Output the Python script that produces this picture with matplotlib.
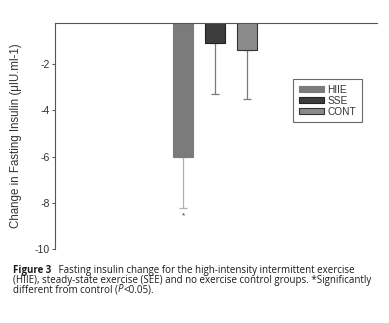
import matplotlib
matplotlib.use("Agg")
import matplotlib.pyplot as plt

groups = ["HIIE", "SSE", "CONT"]
means = [-6.0, -1.07, -1.38]
errors = [2.2, 2.2, 2.12]
yticks = [-2, -4, -6, -8, -10]
ylabel = "Change in Fasting Insulin (\u03bcIU.ml-1)"
# each caption line is a list of (text, weight, style) pieces
caption_lines = [
    [("Figure 3", "bold", "normal"),
     ("   Fasting insulin change for the high-intensity intermittent exercise", "normal", "normal")],
    [("(HIIE), steady-state exercise (SEE) and no exercise control groups. *Significantly", "normal", "normal")],
    [("different from control (", "normal", "normal"), ("P", "normal", "italic"),
     ("<0.05).", "normal", "normal")],
]

colors = ["#7b7b7b", "#3d3d3d", "#8b8b8b"]
edges = ["#7b7b7b", "#222222", "#333333"]
errcolors = ["#b0b0b0", "#7a7a7a", "#7a7a7a"]

plt.rcParams['font.family'] = ['Liberation Sans', 'DejaVu Sans']
fig = plt.figure(figsize=(3.89, 3.23), dpi=100)
ax = fig.add_axes([55/389, 1-249.3/323, (377-55)/389, (249.3-23)/323])

xs = list(range(len(groups)))
for i in xs:
    ax.bar(i, means[i], width=0.625, color=colors[i], edgecolor=edges[i], linewidth=0.8,
           label=groups[i], zorder=2)
    ax.errorbar(i, means[i], yerr=[[errors[i]], [0]], fmt='none', ecolor=errcolors[i],
                elinewidth=0.9, capsize=2.6, capthick=0.9, zorder=1)

ax.text(0, -8.55, "*", ha="center", va="center", fontsize=6, color="#333333")

ax.set_xlim(-4.0, 6.06)
ax.set_ylim(-10, -0.22)
ax.set_yticks(yticks)
ax.set_yticklabels([str(t) for t in yticks], fontsize=7.6, color="#333333")
ax.set_xticks([])
ax.tick_params(axis="y", direction="out", length=2.5, width=0.7, color="#555555", pad=1.5)
for s in ["right", "bottom"]:
    ax.spines[s].set_visible(False)
for s in ["left", "top"]:
    ax.spines[s].set_color("#555555")
    ax.spines[s].set_linewidth(0.8)

ax.set_ylabel(ylabel, fontsize=8.3, color="#333333")
ax.yaxis.set_label_coords(-(55-22)/322, 0.5)

leg = ax.legend(loc="upper left", bbox_to_anchor=(0.739, 0.7525),
                frameon=True, fancybox=False, handlelength=2.5, handleheight=0.6,
                handletextpad=0.35, borderpad=0.55, labelspacing=0.1,
                borderaxespad=0, prop={"size": 7.3})
leg.get_frame().set_edgecolor("#444444")
leg.get_frame().set_linewidth(0.8)
for t in leg.get_texts():
    t.set_color("#333333")

ys = [1-270.3/323, 1-280.0/323, 1-289.7/323]
fig.canvas.draw()
for pieces, y in zip(caption_lines, ys):
    x0 = 13/389
    for txt, weight, style in pieces:
        t = fig.text(x0, y, txt, fontsize=7.0, fontweight=weight, fontstyle=style,
                     family="Open Sans", va="center", ha="left", color="#1a1a1a")
        bb = t.get_window_extent(renderer=fig.canvas.get_renderer())
        x0 = bb.x1 / fig.bbox.width

fig.savefig("out.png", dpi=100)
